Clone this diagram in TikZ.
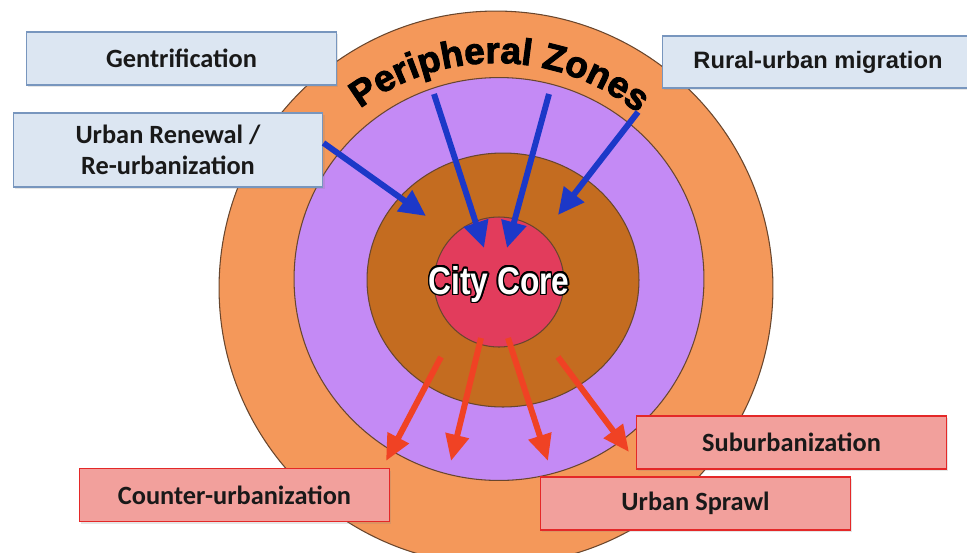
\documentclass[tikz,border=0pt]{standalone}
\usepackage{fontspec}
\setmainfont{Carlito}
\newfontfamily\arialfont{Liberation Sans}
\newfontfamily\heavyfont{Liberation Sans}[BoldFeatures={FakeBold=2.5}]
\usetikzlibrary{shapes.geometric, arrows.meta, shadows, decorations.text}
\usepackage{xcolor}
\definecolor{zoneorange}{RGB}{244, 152, 90}
\definecolor{zonepurple}{RGB}{196, 138, 245}
\definecolor{zonebrown}{RGB}{196, 108, 32}
\definecolor{corered}{RGB}{226, 60, 92}
\definecolor{ringline}{RGB}{105, 70, 45}
\definecolor{inblue}{RGB}{28, 56, 200}
\definecolor{outred}{RGB}{240, 66, 36}
\definecolor{boxblue}{RGB}{220, 230, 242}
\definecolor{boxblueline}{RGB}{120, 150, 190}
\definecolor{boxred}{RGB}{242, 160, 156}
\definecolor{boxredline}{RGB}{228, 40, 40}
\definecolor{labeltext}{RGB}{25, 25, 25}
% white letters with a thin black rim
\newcommand{\haloed}[1]{%
  \foreach \hang in {0,22.5,...,337.5}{%
    \pgfmathsetlengthmacro\hx{0.9pt*cos(\hang)}%
    \pgfmathsetlengthmacro\hy{0.9pt*sin(\hang)}%
    \rlap{\kern\hx\raisebox{\hy}{\color{black}#1}}}%
  {\color{white}#1}}
\tikzset{
    zone/.style={
        ellipse,
        draw=ringline,
        line width=0.6pt,
        inner sep=0pt
    },
    trend box/.style={
        rectangle,
        minimum width=6.2cm,
        minimum height=1.06cm,
        align=center,
        text=labeltext,
        font=\bfseries\fontsize{15}{18}\selectfont,
        drop shadow={opacity=0.2, shadow xshift=1pt, shadow yshift=-1.2pt}
    },
    in box/.style={
        trend box,
        fill=boxblue,
        draw=boxblueline,
        line width=0.6pt
    },
    out box/.style={
        trend box,
        fill=boxred,
        draw=boxredline,
        line width=0.8pt
    },
    inflow/.style={
        -{Triangle[length=15pt, width=14pt]},
        line width=3.4pt,
        draw=inblue
    },
    outflow/.style={
        -{Triangle[length=15pt, width=13pt]},
        line width=3.4pt,
        draw=outred
    }
}

\begin{document}
\begin{tikzpicture}[x=0.02cm, y=-0.02cm]
\useasboundingbox (0,0) rectangle (967,552);
\clip (0,0) rectangle (967,552);

% Zones
\node[zone, fill=zoneorange, minimum width=11.08cm, minimum height=11.08cm] (periph) at (496,288) {};
\node[zone, fill=zonepurple, minimum width=8.2cm, minimum height=8.06cm] (suburb) at (499,279) {};
\node[zone, fill=zonebrown, minimum width=5.44cm, minimum height=5.08cm] (inner) at (503,280) {};
\node[zone, fill=corered, minimum size=2.6cm] (core) at (499,282) {};
\node[font=\arialfont\bfseries\fontsize{22}{24}\selectfont] (corelabel) at (499,284)
    {\scalebox{0.82}[1]{\haloed{City Core}}};

% Curved title of the outer ring
\path[decorate, decoration={text along path, text align=center,
      text={|\heavyfont\bfseries\fontsize{21}{21}\selectfont|Peripheral Zones}}]
    (periph.center) ++(-131:225) arc[start angle=-131, end angle=-47, radius=225];

% Inward flows
\coordinate (gentail) at (434,94);
\coordinate (gentip) at (484,248);
\coordinate (midtail) at (549,94);
\coordinate (midtip) at (507,248);
\coordinate (ruraltail) at (638,112);
\coordinate (ruraltip) at (558,215);
\coordinate (renewtip) at (426,216);

% Outward flows
\coordinate (countertail) at (441,357);
\coordinate (countertip) at (386,461);
\coordinate (lefttail) at (481,338);
\coordinate (lefttip) at (451,461);
\coordinate (sprawltail) at (508,338);
\coordinate (sprawltip) at (548,461);
\coordinate (suburbtail) at (558,357);
\coordinate (suburbtip) at (629,452);

% Labels
\node[in box] (gent) at (181.5,58.5) {Gentrification};
\node[in box, minimum height=1.48cm] (renew) at (168,150) {Urban Renewal /\\Re-urbanization};
\node[in box, minimum width=6.24cm, minimum height=1.04cm,
      font=\arialfont\bfseries\fontsize{13.5}{16}\selectfont] (rural) at (818,62) {Rural-urban migration};
\node[out box] (counter) at (234.5,495) {Counter-urbanization};
\node[out box] (suburbia) at (791.5,442.5) {Suburbanization};
\node[out box] (sprawl) at (695.5,503.5) {Urban Sprawl};

% Arrows
\draw[inflow] ([yshift=4pt]renew.east) -- (renewtip);
\draw[inflow] (gentail) -- (gentip);
\draw[inflow] (midtail) -- (midtip);
\draw[inflow] (ruraltail) -- (ruraltip);
\draw[outflow] (countertail) -- (countertip);
\draw[outflow] (lefttail) -- (lefttip);
\draw[outflow] (sprawltail) -- (sprawltip);
\draw[outflow] (suburbtail) -- (suburbtip);

\end{tikzpicture}
\end{document}
